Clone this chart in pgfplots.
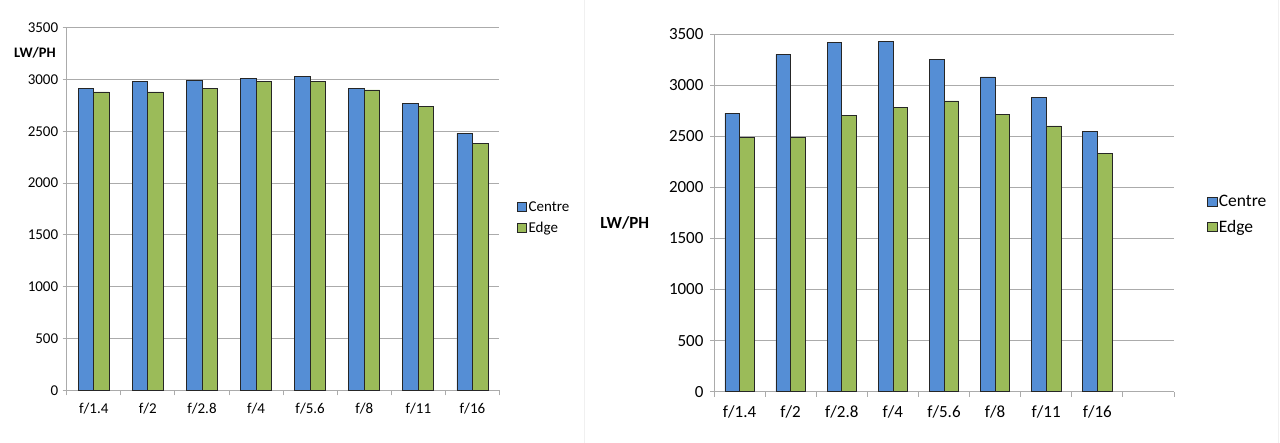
\documentclass[border=0pt]{standalone}
\usepackage{pgfplots}
\pgfplotsset{compat=1.18}
\usepackage{fontspec}
\setmainfont{Carlito}
\definecolor{cblue}{HTML}{558ED5}
\definecolor{cgreen}{HTML}{9BBB59}
\definecolor{gridc}{HTML}{ABABAB}
\pgfplotsset{
  common/.style={
    scale only axis,
    ybar=0pt,
    ymin=0, ymax=3500, ytick={0,500,...,3500},
    xmin=-0.5,
    xtick={0,...,7},
    xticklabels={f/1.4,f/2,f/2.8,f/4,f/5.6,f/8,f/11,f/16},
    major x tick style={draw=none},
    axis x line*=bottom, axis y line*=left,
    axis line style={gridc, line width=0.9pt},
    ymajorgrids, grid style={gridc, line width=0.9pt},
    tick align=outside,
    major y tick style={gridc, line width=0.9pt},
    minor x tick style={gridc, line width=0.9pt},
    /pgf/number format/assume math mode=true,
    /pgf/number format/1000 sep={},
    legend cell align=left,
    legend image code/.code={\draw[##1, line width=0.7pt] (0pt,-4.5pt) rectangle (9.5pt,4.5pt);},
    every axis plot/.append style={draw=black!85, line width=0.7pt},
  }
}
\begin{document}
\begin{tikzpicture}
\path[use as bounding box, fill=white] (0,0) rectangle (1280pt,443pt);
\draw[black!6, line width=1pt] (584pt,0) -- (584pt,443pt);
\draw[black!6, line width=1pt] (1278pt,0) -- (1278pt,443pt);
% Left chart
\begin{axis}[common,
  at={(66.7pt,52.7pt)}, anchor=south west,
  width=432.8pt, height=362.6pt,
  xmax=7.5,
  bar width=15.5pt,
  minor xtick={-0.5,0.5,...,7.5},
  minor tick length=5pt, major tick length=4pt,
  ticklabel style={font=\fontsize{15}{18}\selectfont},
  yticklabel style={xshift=-1pt},
  xticklabel style={yshift=-5pt},
  ylabel={\textbf{LW/PH}},
  ylabel style={rotate=-90, anchor=center, at={(axis description cs:-0.0733,0.931)}, font=\fontsize{14.5}{17}\selectfont},
  legend style={at={(axis description cs:1.0397,0.476)}, anchor=west, draw=none, fill=none,
    font=\fontsize{15}{18}\selectfont, inner sep=0pt, row sep=6pt,
    nodes={inner sep=1.5pt}},
]
\addplot[fill=cblue] coordinates {(0,2910) (1,2985) (2,2995) (3,3010) (4,3030) (5,2915) (6,2765) (7,2480)};
\addplot[fill=cgreen] coordinates {(0,2880) (1,2880) (2,2915) (3,2980) (4,2980) (5,2900) (6,2740) (7,2380)};
\legend{Centre,Edge}
\end{axis}
% Right chart
\begin{axis}[common,
  at={(714pt,51.3pt)}, anchor=south west,
  width=460pt, height=357.7pt,
  xmax=8.5,
  bar width=14.7pt,
  minor xtick={-0.5,0.5,...,8.5},
  minor tick length=5pt, major tick length=4pt,
  ticklabel style={font=\fontsize{17}{20}\selectfont},
  yticklabel style={xshift=-3pt},
  xticklabel style={yshift=-6pt},
  ylabel={\textbf{LW/PH}},
  ylabel style={rotate=-90, anchor=center, at={(axis description cs:-0.194,0.4725)}, font=\fontsize{17}{20}\selectfont},
  legend style={at={(axis description cs:1.0717,0.4948)}, anchor=west, draw=none, fill=none,
    font=\fontsize{17.5}{20}\selectfont, inner sep=0pt, row sep=9pt,
    nodes={inner sep=1.5pt}},
]
\addplot[fill=cblue] coordinates {(0,2725) (1,3300) (2,3420) (3,3430) (4,3255) (5,3080) (6,2880) (7,2550)};
\addplot[fill=cgreen] coordinates {(0,2485) (1,2490) (2,2700) (3,2780) (4,2845) (5,2710) (6,2600) (7,2335)};
\legend{Centre,Edge}
\end{axis}
\end{tikzpicture}
\end{document}
